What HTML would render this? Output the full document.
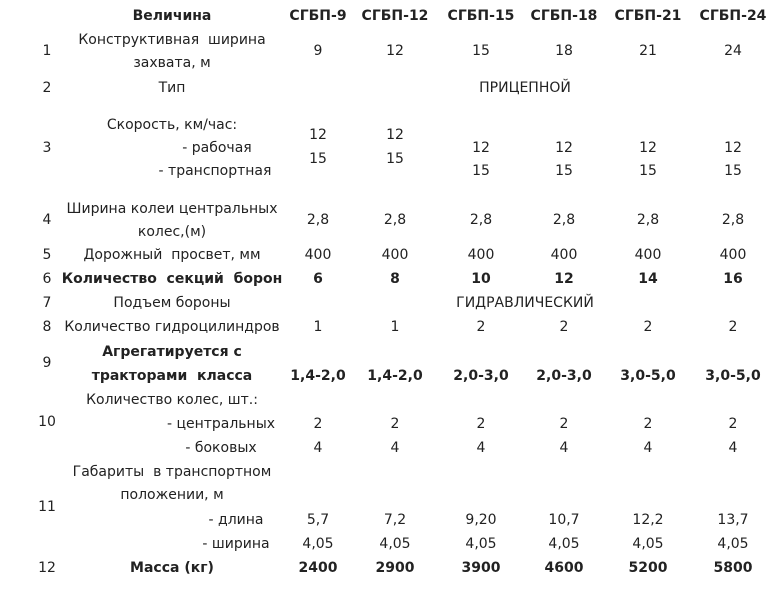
<!DOCTYPE html>
<html><head><meta charset="utf-8"><style>
body{margin:0;width:779px;height:593px;background:#fff;position:relative;overflow:hidden;font-family:"DejaVu Sans","Liberation Sans",sans-serif;font-size:14px;color:#222}
.t{position:absolute;height:20px;line-height:20px;text-align:center;white-space:nowrap}
.b{font-weight:bold}
</style></head><body>
<script>
const C=[318,395,481,564,648,733];
let h='';
function t(x,y,s,w,b){w=w||120;h+=`<div class="t${b?' b':''}" style="left:${x-w/2}px;top:${y-9}px;width:${w}px">${s}</div>`;}
function row(y,vals,b){vals.forEach((v,i)=>t(C[i],y,v,90,b));}
t(172,15,'Величина',260,1);
row(15,['СГБП-9','СГБП-12','СГБП-15','СГБП-18','СГБП-21','СГБП-24'],1);
t(47,50,'1',30);t(172,39,'Конструктивная&nbsp; ширина',260);t(172,62,'захвата, м',260);row(50,['9','12','15','18','21','24']);
t(47,87,'2',30);t(172,87,'Тип',260);t(525,87,'ПРИЦЕПНОЙ',200);
t(47,147,'3',30);t(172,124,'Скорость, км/час:',260);t(217,147,'- рабочая',140);t(215,170,'- транспортная',160);
t(C[0],134,'12',60);t(C[1],134,'12',60);t(C[0],158,'15',60);t(C[1],158,'15',60);
for(let i=2;i<6;i++){t(C[i],147,'12',60);t(C[i],170,'15',60);}
t(47,219,'4',30);t(172,208,'Ширина колеи центральных',260);t(172,231,'колес,(м)',260);row(219,['2,8','2,8','2,8','2,8','2,8','2,8']);
t(47,254,'5',30);t(172,254,'Дорожный&nbsp; просвет, мм',260);row(254,['400','400','400','400','400','400']);
t(47,278,'6',30);t(172,278,'Количество&nbsp; секций&nbsp; борон',260,1);row(278,['6','8','10','12','14','16'],1);
t(47,302,'7',30);t(172,302,'Подъем бороны',260);t(525,302,'ГИДРАВЛИЧЕСКИЙ',200);
t(47,326,'8',30);t(172,326,'Количество гидроцилиндров',260);row(326,['1','1','2','2','2','2']);
t(47,362,'9',30);t(172,351,'Агрегатируется с',260,1);t(172,375,'тракторами&nbsp; класса',260,1);row(375,['1,4-2,0','1,4-2,0','2,0-3,0','2,0-3,0','3,0-5,0','3,0-5,0'],1);
t(47,421,'10',30);t(172,399,'Количество колес, шт.:',260);t(221,423,'- центральных',150);t(221,447,'- боковых',150);
row(423,['2','2','2','2','2','2']);row(447,['4','4','4','4','4','4']);
t(47,506,'11',30);t(172,471,'Габариты&nbsp; в транспортном',260);t(172,494,'положении, м',260);t(236,519,'- длина',120);t(236,543,'- ширина',120);
row(519,['5,7','7,2','9,20','10,7','12,2','13,7']);row(543,['4,05','4,05','4,05','4,05','4,05','4,05']);
t(47,567,'12',30);t(172,567,'Масса (кг)',260,1);row(567,['2400','2900','3900','4600','5200','5800'],1);
document.body.innerHTML=h;
</script>
</body></html>
